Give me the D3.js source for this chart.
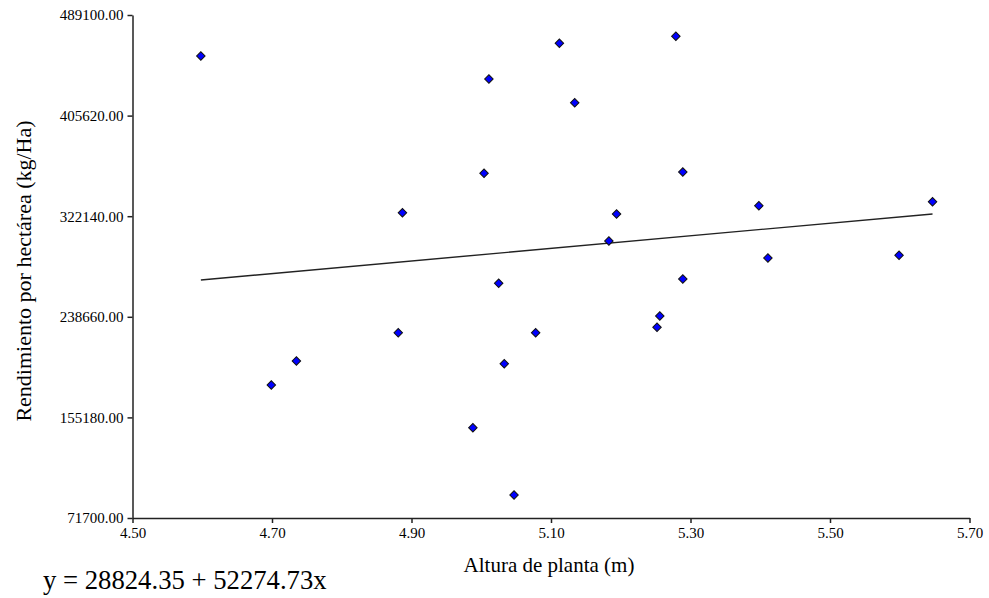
<!DOCTYPE html>
<html>
<head>
<meta charset="utf-8">
<script src="https://cdn.jsdelivr.net/npm/d3@7"></script>
<style>
  html, body { margin: 0; padding: 0; background: #fff; }
  svg { display: block; }
  text { font-family: "Liberation Serif", "Times New Roman", serif; fill: #000; }
</style>
</head>
<body>
<svg id="chart" width="989" height="598"></svg>
<script>
// Data
const alturaPlanta = [4.598, 5.112, 5.011, 5.134, 5.004, 4.887, 5.279, 5.289, 5.194, 5.183, 5.398, 5.647, 5.411, 5.599, 5.289, 5.025, 4.881, 5.078, 5.033, 4.735, 4.699, 4.988, 5.047, 5.256, 5.252];
const rendimiento = [455078, 465616, 435991, 416327, 357743, 325048, 471425, 358821, 323970, 301565, 330857, 334176, 287459, 289699, 270033, 266465, 225473, 225473, 199749, 201989, 182074, 146642, 90796, 239330, 229953];
const xTicks = [4.50, 4.70, 4.90, 5.10, 5.30, 5.50, 5.70];
const yTicks = [71700, 155180, 238660, 322140, 405620, 489100];
const intercept = 28824.35;
const slope = 52274.73;
const xTitle = "Altura de planta (m)";
const yTitle = "Rendimiento por hectárea (kg/Ha)";
const equation = "y = 28824.35 + 52274.73x";

const svg = d3.select("#chart");
const mLeft = 132.5, mRight = 969.5, mTop = 15, mBottom = 518;

const x = d3.scaleLinear().domain([4.5, 5.7]).range([mLeft, mRight]);
const y = d3.scaleLinear().domain([71700, 489100]).range([mBottom, mTop]);

// axes
const xAxis = d3.axisBottom(x).tickValues(xTicks).tickFormat(d3.format(".2f")).tickSize(5).tickSizeOuter(0);
const yAxis = d3.axisLeft(y).tickValues(yTicks).tickFormat(d3.format(".2f")).tickSize(5).tickSizeOuter(0);

const gx = svg.append("g").attr("transform", `translate(0,${mBottom})`).call(xAxis);
const gy = svg.append("g").attr("transform", `translate(${mLeft},0)`).call(yAxis);

[gx, gy].forEach(g => {
  g.select(".domain").attr("stroke", "#222").attr("stroke-width", 1.5);
  g.selectAll(".tick line").attr("stroke", "#222").attr("stroke-width", 1.5);
  g.selectAll(".tick text").attr("font-family", "Liberation Serif, serif").attr("font-size", 15).attr("fill", "#000");
});
gx.selectAll(".tick text").attr("dy", "0.71em").attr("y", 9);
gy.selectAll(".tick text").attr("x", -9);

// regression line
const xMin = d3.min(alturaPlanta), xMax = d3.max(alturaPlanta);
svg.append("line")
  .attr("x1", x(xMin)).attr("y1", y(intercept + slope * xMin))
  .attr("x2", x(xMax)).attr("y2", y(intercept + slope * xMax))
  .attr("stroke", "#222").attr("stroke-width", 1.4);

// points (diamonds)
const diamond = d3.symbol().type(d3.symbolSquare).size(36);
svg.append("g").selectAll("path")
  .data(alturaPlanta.map((v, i) => [v, rendimiento[i]]))
  .join("path")
  .attr("d", diamond)
  .attr("transform", d => `translate(${x(d[0])},${y(d[1])}) rotate(45)`)
  .attr("fill", "#0000ff")
  .attr("stroke", "#111")
  .attr("stroke-width", 1);

// titles
svg.append("text")
  .attr("x", 549).attr("y", 572)
  .attr("text-anchor", "middle").attr("font-size", 21)
  .text(xTitle);

svg.append("text")
  .attr("transform", `translate(31,271) rotate(-90)`)
  .attr("text-anchor", "middle").attr("font-size", 22)
  .text(yTitle);

svg.append("text")
  .attr("x", 43).attr("y", 589)
  .attr("font-size", 26.7)
  .text(equation);
</script>
</body>
</html>
